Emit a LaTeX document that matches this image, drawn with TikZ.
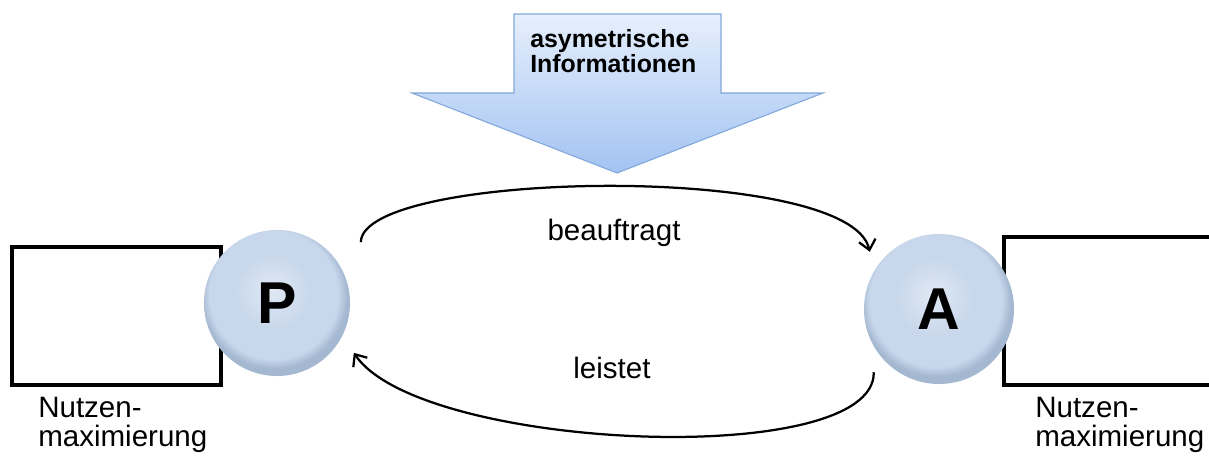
\documentclass[tikz,border=0pt]{standalone}
\usepackage{fontspec}
\setmainfont{Liberation Sans}
\usetikzlibrary{arrows.meta,positioning,calc}

\definecolor{orbhi}{HTML}{E0E9F5}
\definecolor{orbmid}{HTML}{C8D7EB}
\definecolor{orbedge}{HTML}{A5B8D1}
\definecolor{infotop}{HTML}{E6EFFC}
\definecolor{infobot}{HTML}{A3C3F2}
\definecolor{infoline}{HTML}{82A9DC}

\pgfdeclareradialshading{orb}{\pgfpoint{-2bp}{5bp}}{%
  color(0bp)=(orbhi); color(13bp)=(orbmid); color(22bp)=(orbmid);
  color(25bp)=(orbedge); color(50bp)=(orbedge)}

\begin{document}
\begin{tikzpicture}[
    x=0.025cm, y=-0.025cm,
    party/.style={circle, shading=orb, minimum size=#1, inner sep=0pt,
                  font=\fontsize{42}{42}\selectfont\bfseries},
    goalbox/.style={rectangle, draw, line width=2.4pt, fill=white, inner sep=0pt},
    goaltext/.style={anchor=base west, align=left, inner sep=0pt,
                     font=\fontsize{21}{21.3}\selectfont},
    flowtext/.style={font=\fontsize{21}{21}\selectfont},
    flow/.style={line width=1.6pt, -{Straight Barb[length=7pt,width=12pt]}}
]
    \useasboundingbox (0,0) rectangle (1209,457);
    \clip (0,0) rectangle (1209,457);

    % big arrow with the information asymmetry
    \draw[infoline, line width=0.8pt, top color=infotop, bottom color=infobot]
        (514,14) -- (721,14) -- (721,93) -- (823,93) -- (617,173)
        -- (412,93) -- (514,93) -- cycle;
    \node[anchor=base west, align=left, inner sep=0pt,
          font=\fontsize{17.7}{18.4}\selectfont\bfseries] (info) at (530,73)
        {asymetrische\\Informationen};

    % utility boxes behind the parties
    \node[goalbox, minimum width=209*0.025cm, minimum height=138*0.025cm] (boxP) at (116.5,316) {};
    \node[goalbox, minimum width=230*0.025cm, minimum height=148*0.025cm] (boxA) at (1119,311) {};

    \node[party=3.65cm] (P) at (277,303) {P};
    \node[party=3.75cm] (A) at (939,309) {A};

    \node[goaltext] (nutzenP) at (38,447) {Nutzen-\\maximierung};
    \node[goaltext] (nutzenA) at (1035,447) {Nutzen-\\maximierung};

    % principal and agent relation
    \draw[flow] ([shift={(32,-9)}]P.north east) .. controls +(1,-72) and +(-20,-90) .. ([shift={(-16,-4)}]A.north west);
    \draw[flow] ([shift={(-12,10)}]A.south west) .. controls +(2,98) and +(66,98) .. ([shift={(25,-2)}]P.south east);

    \node[flowtext] (auftrag) at (614,233) {beauftragt};
    \node[flowtext] (leistung) at (612,368) {leistet};
\end{tikzpicture}
\end{document}
